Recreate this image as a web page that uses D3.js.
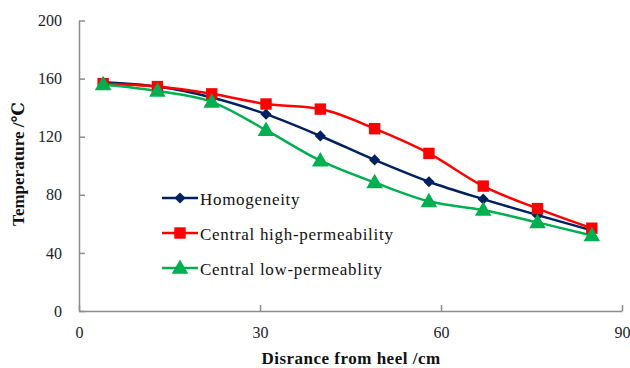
<!DOCTYPE html>
<html><head><meta charset="utf-8">
<script src="https://cdn.jsdelivr.net/npm/d3@7"></script>
<style>body{margin:0;background:#fff}svg{display:block}</style>
</head><body>
<svg id="c" width="630" height="368"></svg>
<script>
const distance = [4, 13, 22, 31, 40, 49, 58, 67, 76, 85];
const homogeneity = [157.5, 154.5, 147, 135.5, 120.5, 104, 89, 77, 66, 55.5];
const highPerm = [156.5, 154.5, 149.5, 142.5, 139, 125.5, 108.5, 86, 70.5, 57];
const lowPerm = [156, 151.5, 144, 124.5, 103.5, 88.5, 75.5, 69.5, 61, 52];
const seriesNames = ["Homogeneity", "Central high-permeability", "Central low-permeablity"];
const xTicks = [0, 30, 60, 90];
const yTicks = [0, 40, 80, 120, 160, 200];

const colors = ["#002060", "#FF0000", "#00B050"];
const shapes = [d3.symbolDiamond2, d3.symbolSquare, d3.symbolTriangle];
const sizes = [80, 130, 120];
const font = "Liberation Serif, Times New Roman, DejaVu Serif, serif";

const svg = d3.select("#c");
const x = d3.scaleLinear().domain([0, 90]).range([79, 622]);
const y = d3.scaleLinear().domain([0, 200]).range([311, 20.5]);

// axes
const gx = svg.append("g").attr("transform", `translate(0,${y(0)})`)
  .call(d3.axisBottom(x).tickValues(xTicks).tickSize(-6).tickPadding(16).tickSizeOuter(0));
const gy = svg.append("g").attr("transform", `translate(${x(0)},0)`)
  .call(d3.axisLeft(y).tickValues(yTicks).tickSize(-6).tickPadding(17).tickSizeOuter(0));
[gx, gy].forEach(g => {
  g.attr("font-family", null).attr("font-size", null);
  g.select(".domain").attr("stroke", "#8c8c8c").attr("stroke-width", 1.5);
  g.selectAll(".tick line").attr("stroke", "#8c8c8c").attr("stroke-width", 1.5);
  g.selectAll(".tick text").style("font-family", font).style("font-size", "16px").attr("fill", "#222");
});

// series
const all = [homogeneity, highPerm, lowPerm];
const line = d3.line().x((d, i) => x(distance[i])).y(d => y(d)).curve(d3.curveMonotoneX);
all.forEach((vals, k) => {
  svg.append("path").datum(vals).attr("d", line).attr("fill", "none")
    .attr("stroke", colors[k]).attr("stroke-width", 2.5);
});
all.forEach((vals, k) => {
  svg.append("g").selectAll("path").data(vals).join("path")
    .attr("d", d3.symbol().type(shapes[k]).size(sizes[k]))
    .attr("transform", (d, i) => `translate(${x(distance[i])},${y(d)})${k===2?" translate(0,1)":""}`)
    .attr("fill", colors[k]);
});

// legend
const legY = [198, 233, 268];
seriesNames.forEach((name, k) => {
  const g = svg.append("g").attr("transform", `translate(0,${legY[k]})`);
  g.append("line").attr("x1", 162).attr("x2", 198).attr("y1", 0).attr("y2", 0)
    .attr("stroke", colors[k]).attr("stroke-width", 2.5);
  g.append("path").attr("d", d3.symbol().type(shapes[k]).size(sizes[k]))
    .attr("transform", `translate(180,${k===2?1:0})`).attr("fill", colors[k]);
  g.append("text").attr("x", 200).attr("y", 6.5).text(name)
    .style("font-family", font).style("font-size", "17px").attr("fill", "#111").attr("letter-spacing", 0.7);
});

// titles
svg.append("text").attr("x", 351).attr("y", 364).attr("text-anchor", "middle")
  .style("font-family", font).style("font-size", "17px").attr("font-weight", "bold").attr("fill", "#111")
  .attr("letter-spacing", 0.5)
  .text("Disrance from heel /cm");
svg.append("text").attr("transform", "translate(24,164) rotate(-90)").attr("text-anchor", "middle")
  .style("font-family", font).style("font-size", "17px").attr("font-weight", "bold").attr("fill", "#111")
  .text("Temperature  /℃");
</script>
</body></html>
